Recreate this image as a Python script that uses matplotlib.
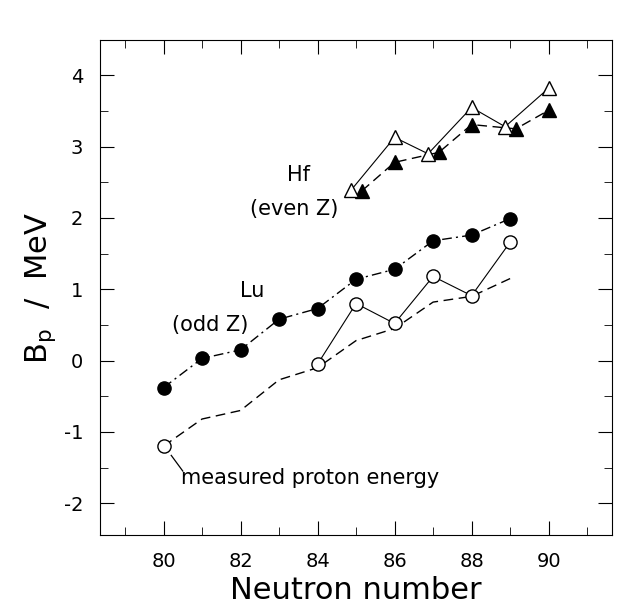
import numpy as np
import matplotlib
matplotlib.use("Agg")
import matplotlib.pyplot as plt
from matplotlib.ticker import MultipleLocator

plt.rcParams['axes.unicode_minus'] = False

# Lu (odd Z)
lu_n = [80, 81, 82, 83, 84, 85, 86, 87, 88, 89]
lu_calc = [-0.38, 0.03, 0.15, 0.58, 0.73, 1.14, 1.28, 1.68, 1.76, 1.99]
lu_dash = [-1.2, -0.82, -0.70, -0.27, -0.10, 0.28, 0.45, 0.82, 0.90, 1.15]
lu_meas_n = [84, 85, 86, 87, 88, 89]
lu_meas = [-0.05, 0.80, 0.52, 1.18, 0.91, 1.66]
lu_proton_n = 80
lu_proton = -1.2

# Hf (even Z)
hf_n = [85, 86, 87, 88, 89, 90]
hf_open = [2.39, 3.13, 2.90, 3.55, 3.28, 3.82]
hf_filled = [2.38, 2.78, 2.92, 3.31, 3.25, 3.51]
hf_open_n = [84.87, 86.0, 86.87, 88.0, 88.87, 90.0]
hf_filled_n = [85.15, 86.0, 87.15, 88.0, 89.15, 90.0]

fig = plt.figure(figsize=(6.41, 6.11), dpi=100)
ax = fig.add_axes([0.156, 0.124, 0.799, 0.811])

ax.plot(lu_n, lu_dash, color='black', lw=1.0, ls=(0, (7, 4)))
ax.plot(lu_n, lu_calc, color='black', lw=1.0, ls=(0, (7, 3, 1.5, 3)),
        marker='o', ms=9.5, mfc='black', mec='black')
ax.plot(lu_meas_n, lu_meas, color='black', lw=0.8, marker='o', ms=9.5,
        mfc='white', mec='black', mew=1.0)
ax.plot([lu_proton_n], [lu_proton], ls='none', marker='o', ms=9.5,
        mfc='white', mec='black', mew=1.0)

ax.plot(hf_filled_n, hf_filled, color='black', lw=1.0, ls=(0, (7, 4)),
        marker='^', ms=9.5, mfc='black', mec='black')
ax.plot(hf_open_n, hf_open, color='black', lw=0.8, marker='^', ms=10.5,
        mfc='white', mec='black', mew=1.0, zorder=3)

ax.text(83.5, 2.6, "Hf", fontsize=15, ha='center', va='center')
ax.text(83.4, 2.12, "(even Z)", fontsize=15, ha='center', va='center')
ax.text(82.3, 0.98, "Lu", fontsize=15, ha='center', va='center')
ax.text(81.2, 0.5, "(odd Z)", fontsize=15, ha='center', va='center')
ax.plot([80.2, 80.5], [-1.33, -1.55], color='black', lw=0.9)
ax.text(80.45, -1.65, "measured proton energy", fontsize=15, ha='left', va='center')

ax.set_xlim(78.35, 91.65)
ax.set_ylim(-2.45, 4.5)
ax.xaxis.set_major_locator(MultipleLocator(2))
ax.xaxis.set_minor_locator(MultipleLocator(1))
ax.yaxis.set_major_locator(MultipleLocator(1))
ax.yaxis.set_minor_locator(MultipleLocator(0.5))
ax.tick_params(which='both', direction='in', top=True, right=True, labelsize=14, pad=12)
ax.tick_params(which='major', length=10)
ax.tick_params(which='minor', length=6)
ax.set_xlabel("Neutron number", fontsize=22)
ax.set_ylabel(r"B$_\mathregular{p}$  /  MeV", fontsize=22)

fig.savefig("out.png", dpi=100)
